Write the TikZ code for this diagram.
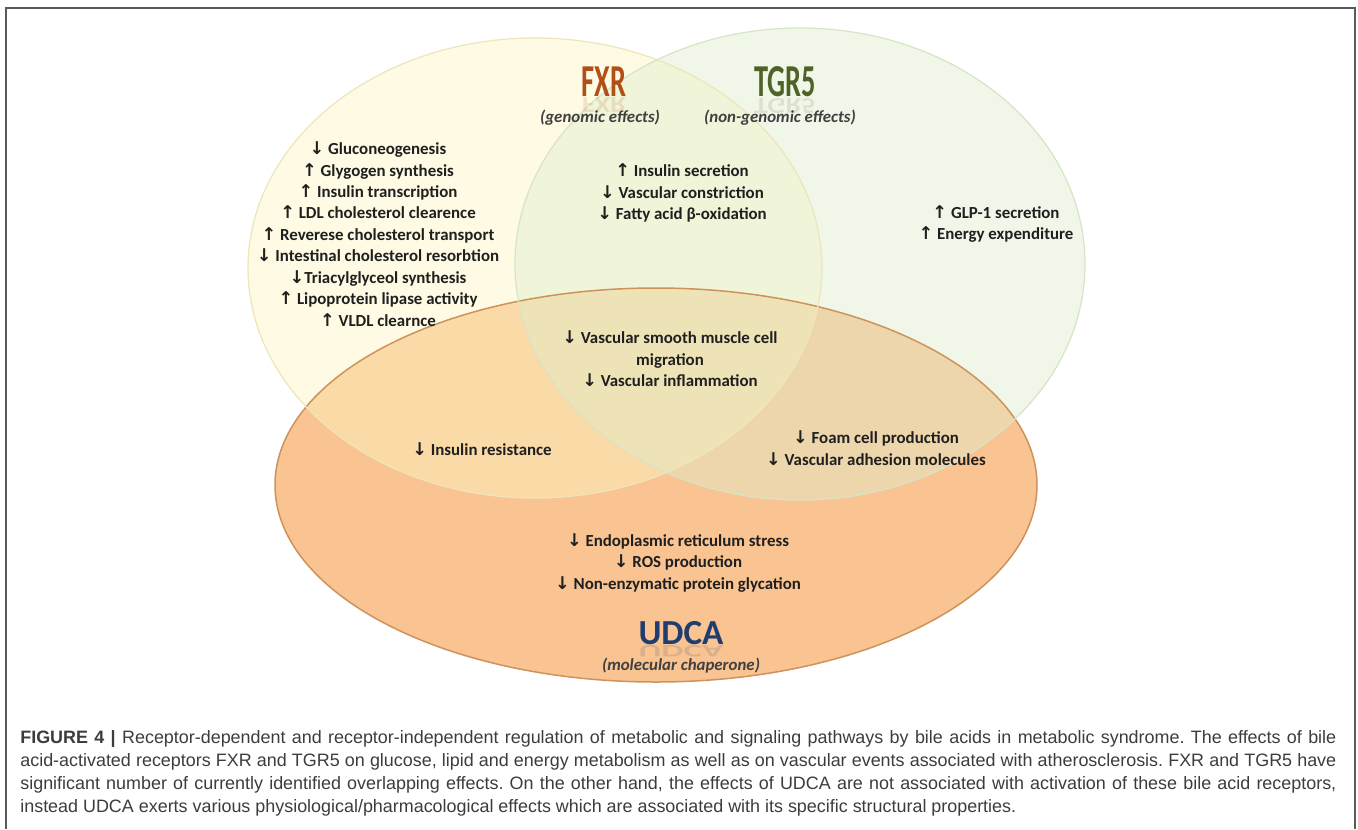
\documentclass[tikz,border=0pt]{standalone}
\usepackage{fontspec}
\usepackage{tikz}
\usepackage{xcolor}
\setmainfont{Carlito}
\newfontfamily\captionfamily{Liberation Sans}
\newfontfamily\arrowfamily{DejaVu Sans}
\definecolor{fxrfill}{RGB}{252,245,192}
\definecolor{fxredge}{RGB}{238,230,186}
\definecolor{tgrfill}{RGB}{225,238,205}
\definecolor{tgredge}{RGB}{216,228,200}
\definecolor{udcafill}{RGB}{249,196,145}
\definecolor{udcaedge}{RGB}{206,146,92}
\definecolor{fxrtitle}{RGB}{176,80,24}
\definecolor{tgrtitle}{RGB}{79,98,40}
\definecolor{udcatitle}{RGB}{31,61,110}
\definecolor{subtitle}{RGB}{64,64,64}
\definecolor{captiontext}{RGB}{60,60,60}
\definecolor{framegray}{RGB}{90,90,90}
\newcommand{\incr}{{\arrowfamily\bfseries\fontsize{10}{10}\selectfont ↑}}
\newcommand{\decr}{{\arrowfamily\bfseries\fontsize{10}{10}\selectfont ↓}}
\tikzset{
  effect/.style={font=\bfseries\fontsize{9.6}{12.2}\selectfont, align=center, text=black!88, inner sep=0pt},
  settitle/.style={font=\bfseries\fontsize{26}{28}\selectfont, inner sep=0pt},
  setmirror/.style={settitle, opacity=0.14},
  setsub/.style={font=\bfseries\itshape\fontsize{9.6}{12}\selectfont, text=subtitle, inner sep=0pt}
}

\begin{document}
\begin{tikzpicture}[x=0.2mm, y=-0.2mm]
    \useasboundingbox (0,0) rectangle (1358,829);
    \fill[udcafill] (656,485) ellipse [x radius=381, y radius=197];
    \fill[fxrfill, fill opacity=0.45] (535,268) ellipse [x radius=287, y radius=230];
    \fill[tgrfill, fill opacity=0.45] (800,264) ellipse [x radius=285, y radius=236];
    \draw[udcaedge, line width=0.3mm] (656,485) ellipse [x radius=381, y radius=197];
    \draw[fxredge, line width=0.25mm] (535,268) ellipse [x radius=287, y radius=230];
    \draw[tgredge, line width=0.25mm] (800,264) ellipse [x radius=285, y radius=236];

    \node[settitle, text=fxrtitle] (fxr) at (604,82) {\scalebox{0.62}[1]{FXR}};
    \node[setmirror, text=fxrtitle, anchor=north] (fxrmirror) at (fxr.south) {\scalebox{0.62}[-0.5]{FXR}};
    \node[setsub] (fxrsub) at (600,118) {(genomic effects)};
    \node[settitle, text=tgrtitle] (tgr) at (785,82) {\scalebox{0.62}[1]{TGR5}};
    \node[setmirror, text=tgrtitle, anchor=north] (tgrmirror) at (tgr.south) {\scalebox{0.62}[-0.5]{TGR5}};
    \node[setsub] (tgrsub) at (780,118) {(non-genomic effects)};
    \node[settitle, font=\bfseries\fontsize{20}{24}\selectfont, text=udcatitle] (udca) at (681,633) {UDCA};
    \node[setmirror, font=\bfseries\fontsize{20}{24}\selectfont, text=udcatitle, anchor=north] (udcamirror) at (udca.south) {\scalebox{1}[-0.5]{UDCA}};
    \node[setsub] (udcasub) at (681,666) {(molecular chaperone)};

    \node[effect] (fxronly) at (378,234) {\decr{} Gluconeogenesis\\ \incr{} Glygogen synthesis\\ \incr{} Insulin transcription\\ \incr{} LDL cholesterol clearence\\ \incr{} Reverese cholesterol transport\\ \decr{} Intestinal cholesterol resorbtion\\ \decr{}Triacylglyceol synthesis\\ \incr{} Lipoprotein lipase activity\\ \incr{} VLDL clearnce};
    \node[effect] (fxrtgr) at (682,193) {\incr{} Insulin secretion\\ \decr{} Vascular constriction\\ \decr{} Fatty acid β-oxidation};
    \node[effect] (tgronly) at (996,224) {\incr{} GLP-1 secretion\\ \incr{} Energy expenditure};
    \node[effect] (allthree) at (670,359) {\decr{} Vascular smooth muscle cell\\ migration\\ \decr{} Vascular inflammation};
    \node[effect] (fxrudca) at (482,449) {\decr{} Insulin resistance};
    \node[effect] (tgrudca) at (876,448) {\decr{} Foam cell production\\ \decr{} Vascular adhesion molecules};
    \node[effect] (udcaonly) at (678,563) {\decr{} Endoplasmic reticulum stress\\ \decr{} ROS production\\ \decr{} Non-enzymatic protein glycation};

    \node[anchor=north west, inner sep=0pt, text width=263.2mm, align=justify, text=captiontext, font=\captionfamily\frenchspacing\fontsize{10.2}{13.1}\selectfont] (caption) at (20,730) {{\bfseries FIGURE 4 |} Receptor-dependent and receptor-independent regulation of metabolic and signaling pathways by bile acids in metabolic syndrome. The effects of bile\linebreak acid-activated receptors FXR and TGR5 on glucose, lipid and energy metabolism as well as on vascular events associated with atherosclerosis. FXR and TGR5 have\linebreak significant number of currently identified overlapping effects. On the other hand, the effects of UDCA are not associated with activation of these bile acid receptors,\linebreak instead UDCA exerts various physiological/pharmacological effects which are associated with its specific structural properties.};

    \coordinate (framebl) at (6,829);
    \coordinate (frametl) at (6,8);
    \coordinate (frametr) at (1355,8);
    \coordinate (framebr) at (1355,829);
    \draw[framegray, line width=0.3mm] (framebl) -- (frametl) -- (frametr) -- (framebr);
\end{tikzpicture}
\end{document}
